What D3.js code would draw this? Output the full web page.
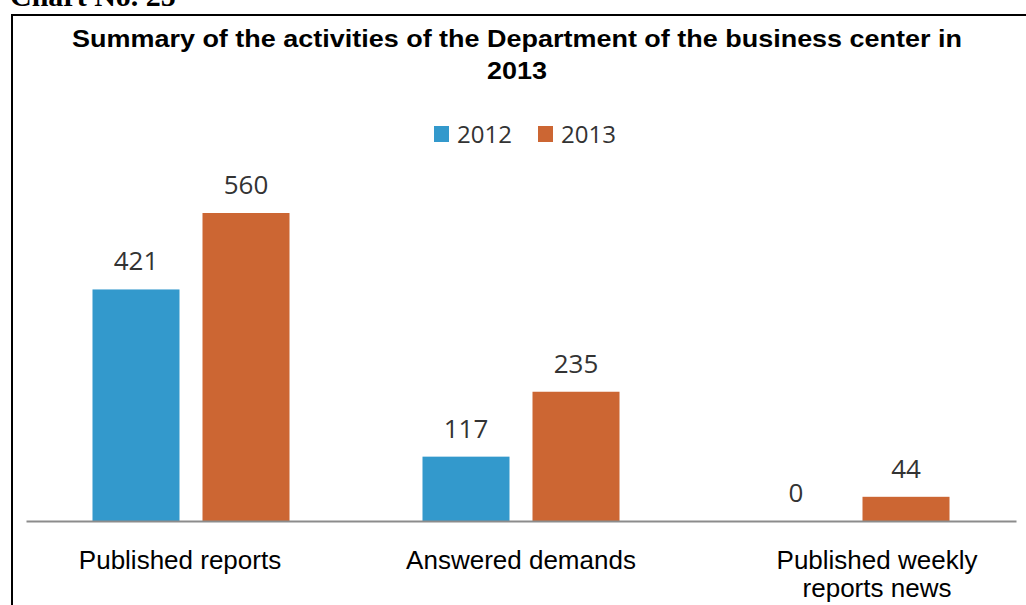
<!DOCTYPE html>
<html>
<head>
<meta charset="utf-8">
<script src="https://cdn.jsdelivr.net/npm/d3@7/dist/d3.min.js"></script>
<style>
  html, body { margin: 0; padding: 0; background: #fff; }
  svg { display: block; }
</style>
</head>
<body>
<svg id="chart" width="1026" height="605"></svg>
<script>
const categories = ["Published reports", "Answered demands", "Published weekly reports news"];
const series = ["2012", "2013"];
const values2012 = [421, 117, 0];
const values2013 = [560, 235, 44];
const titleLines = ["Summary of the activities of the Department of the business center in", "2013"];
const categoryLines = [["Published reports"], ["Answered demands"], ["Published weekly", "reports news"]];

const colors = { "2012": "#3399cc", "2013": "#cc6633" };
const seriesValues = { "2012": values2012, "2013": values2013 };

const svg = d3.select("#chart");
const W = 1026, H = 605;

// Caption above the frame (cut off at the top, as in the original)
svg.append("text")
  .attr("x", 10).attr("y", 6)
  .attr("font-family", "Liberation Serif, Times New Roman, serif")
  .attr("font-weight", "bold")
  .attr("font-size", 30)
  .attr("fill", "#000")
  .text("Chart No. 25");

// Frame
svg.append("line").attr("x1", 12).attr("x2", 12).attr("y1", 14).attr("y2", H)
  .attr("stroke", "#000").attr("stroke-width", 2);
svg.append("line").attr("x1", 11).attr("x2", W).attr("y1", 15).attr("y2", 15)
  .attr("stroke", "#000").attr("stroke-width", 2);

// Title
const titleText = svg.append("g").selectAll("text").data(titleLines).join("text")
  .attr("x", 517)
  .attr("y", (d, i) => 47 + i * 32)
  .attr("text-anchor", "middle")
  .attr("font-family", "Liberation Sans, Arial, sans-serif")
  .attr("font-weight", "bold")
  .attr("font-size", 24)
  .attr("fill", "#000")
  .text(d => d);
titleText.filter((d, i) => i === 0)
  .attr("textLength", 890)
  .attr("lengthAdjust", "spacingAndGlyphs");
titleText.filter((d, i) => i === 1)
  .attr("textLength", 60)
  .attr("lengthAdjust", "spacingAndGlyphs");

// Scales
const x0 = d3.scaleBand().domain(categories).range([26, 1016]).paddingInner(0).paddingOuter(0);
const x1 = d3.scaleBand().domain(series).range([0, x0.bandwidth()])
  .paddingInner(23 / 110).paddingOuter(0.6045);
const y = d3.scaleLinear().domain([0, 600]).range([521, 191]);

const rows = categories.map((c, i) => ({ cat: c, i, vals: series.map(s => ({ s, v: seriesValues[s][i] })) }));

const groups = svg.append("g").selectAll("g").data(rows).join("g")
  .attr("transform", d => `translate(${x0(d.cat)},0)`);

groups.selectAll("rect").data(d => d.vals).join("rect")
  .attr("x", d => x1(d.s))
  .attr("width", x1.bandwidth())
  .attr("y", d => y(d.v))
  .attr("height", d => y(0) - y(d.v))
  .attr("fill", d => colors[d.s]);

groups.selectAll("text.val").data(d => d.vals).join("text")
  .attr("class", "val")
  .attr("x", d => x1(d.s) + x1.bandwidth() / 2)
  .attr("y", d => y(d.v) - 19)
  .attr("text-anchor", "middle")
  .attr("font-family", "Open Sans, sans-serif")
  .attr("font-size", 26)
  .attr("fill", "#333")
  .text(d => d.v);

// Axis line (baseline)
const xAxis = d3.axisBottom(x0).tickSize(0).tickFormat("");
const axisG = svg.append("g").attr("transform", `translate(0,${y(0)})`).call(xAxis);
axisG.select(".domain").attr("stroke", "#8c8c8c").attr("stroke-width", 2);

// Category labels
const labelDx = [-11, 0, 26];
const lab = svg.append("g").selectAll("text").data(rows).join("text")
  .attr("y", 569)
  .attr("text-anchor", "middle")
  .attr("font-family", "Liberation Sans, Arial, sans-serif")
  .attr("font-size", 26)
  .attr("fill", "#000");
lab.selectAll("tspan").data(d => categoryLines[d.i].map(t => ({ t, x: x0(d.cat) + x0.bandwidth() / 2 + labelDx[d.i] })))
  .join("tspan")
  .attr("x", d => d.x)
  .attr("dy", (d, j) => j === 0 ? 0 : 28)
  .text(d => d.t);

// Legend
const legendX = { "2012": 434, "2013": 538 };
const leg = svg.append("g").selectAll("g").data(series).join("g")
  .attr("transform", d => `translate(${legendX[d]},126)`);
leg.append("rect").attr("width", 15).attr("height", 16).attr("fill", d => colors[d]);
leg.append("text").attr("x", 23).attr("y", 16.5)
  .attr("font-family", "Open Sans, sans-serif")
  .attr("font-size", 24)
  .attr("fill", "#333")
  .text(d => d);
</script>
</body>
</html>
